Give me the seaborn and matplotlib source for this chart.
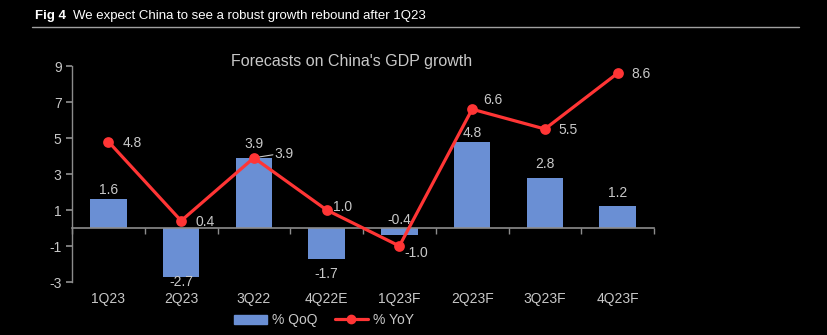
import matplotlib
matplotlib.use("Agg")
import matplotlib.pyplot as plt
import seaborn as sns
import pandas as pd
from matplotlib.patches import Patch
from matplotlib.lines import Line2D

# ---- data ----
categories = ["1Q23", "2Q23", "3Q22", "4Q22E", "1Q23F", "2Q23F", "3Q23F", "4Q23F"]
qoq = [1.6, -2.7, 3.9, -1.7, -0.4, 4.8, 2.8, 1.2]
yoy = [4.8, 0.4, 3.9, 1.0, -1.0, 6.6, 5.5, 8.6]
y_ticks = [-3, -1, 1, 3, 5, 7, 9]

# label offsets (pixels) - styling only
qoq_dy = [9, -5, 14, -15, 15, 9, 13.6, 13]
yoy_off = [(14, -1), (14, -1), (21, 4), (6, 3), (5, -7), (11, 9), (14, -1), (14, -1)]

BG = "black"
BAR = "#6a8fd4"
RED = "#ff3535"
TXT = "#c8c8c8"
AX = "#8c8c8c"

sns.set_theme(style="dark")
plt.rcParams["font.family"] = ["Liberation Sans", "DejaVu Sans"]
plt.rcParams["axes.unicode_minus"] = False

fig = plt.figure(figsize=(8.27, 3.35), dpi=100, facecolor=BG)
ax = fig.add_axes([72 / 827, 1 - 282 / 335, (654 - 72) / 827, 216 / 335])
ax.set_facecolor(BG)

df = pd.DataFrame({"cat": categories, "qoq": qoq, "yoy": yoy})
sns.barplot(data=df, x="cat", y="qoq", color=BAR, saturation=1, width=0.5,
            linewidth=0, edgecolor=BAR, ax=ax)
sns.pointplot(data=df, x="cat", y="yoy", color=RED, markers="o", markersize=6,
              linewidth=2.3, ax=ax, zorder=5)

ax.set_xlim(-0.5, 7.5)
ax.set_ylim(-3, 9)
ax.set_yticks(y_ticks)
ax.set_xlabel("")
ax.set_ylabel("")
ax.grid(False)

for s in ["top", "right"]:
    ax.spines[s].set_visible(False)
ax.spines["left"].set_color(AX)
ax.spines["left"].set_linewidth(1)
ax.spines["bottom"].set_position(("data", 0))
ax.spines["bottom"].set_color(AX)
ax.spines["bottom"].set_linewidth(1.2)

ax.tick_params(axis="y", colors=AX, labelcolor=TXT, labelsize=10, length=4, direction="out", left=True)
ax.set_xticks(range(len(categories)))
ax.set_xticklabels(categories)
ax.set_xticks([i - 0.5 for i in range(len(categories) + 1)], minor=True)
ax.tick_params(axis="x", which="major", length=0, pad=46, labelcolor=TXT, labelsize=10)
ax.tick_params(axis="x", which="minor", length=4, color=AX, direction="out", bottom=True)

px = 0.72
for i, v in enumerate(qoq):
    ax.annotate(f"{v:.1f}", xy=(i, v), xytext=(0, qoq_dy[i] * px), textcoords="offset points",
                ha="center", va="center", color=TXT, fontsize=10)
for i, v in enumerate(yoy):
    dx, dy = yoy_off[i]
    ax.annotate(f"{v:.1f}", xy=(i, v), xytext=(dx * px, dy * px), textcoords="offset points",
                ha="left", va="center", color=TXT, fontsize=10, zorder=6)
# leader line for 3Q22 YoY label
ax.annotate("", xy=(2, yoy[2]), xytext=(19 * px, 3 * px), textcoords="offset points",
            arrowprops=dict(arrowstyle="-", color=TXT, lw=0.8, shrinkA=0, shrinkB=3))

ax.set_title("Forecasts on China's GDP growth", color=TXT, fontsize=11.5, pad=0, y=1.0)
ax.title.set_position((0.48, 1.0))

# legend
handles = [Patch(facecolor=BAR, edgecolor=BAR),
           Line2D([0], [0], color=RED, lw=2.3, marker="o", markersize=6)]
fig.legend(handles, ["% QoQ", "% YoY"], loc="center", bbox_to_anchor=(324 / 827, 1 - 320 / 335),
           ncol=2, frameon=False, labelcolor=TXT, fontsize=10, handlelength=2.4,
           handleheight=0.6, columnspacing=1.2, handletextpad=0.4)

# figure header
fig.text(35 / 827, 1 - 16 / 335, "Fig 4", color="white", fontsize=9.5, fontweight="bold",
         ha="left", va="center")
fig.text(73 / 827, 1 - 16 / 335, "We expect China to see a robust growth rebound after 1Q23",
         color="white", fontsize=9.5, ha="left", va="center")
fig.add_artist(Line2D([32 / 827, 799 / 827], [1 - 27 / 335, 1 - 27 / 335], color="#a0a0a0",
                      lw=1, transform=fig.transFigure))

fig.savefig("out.png", dpi=100, facecolor=BG)
